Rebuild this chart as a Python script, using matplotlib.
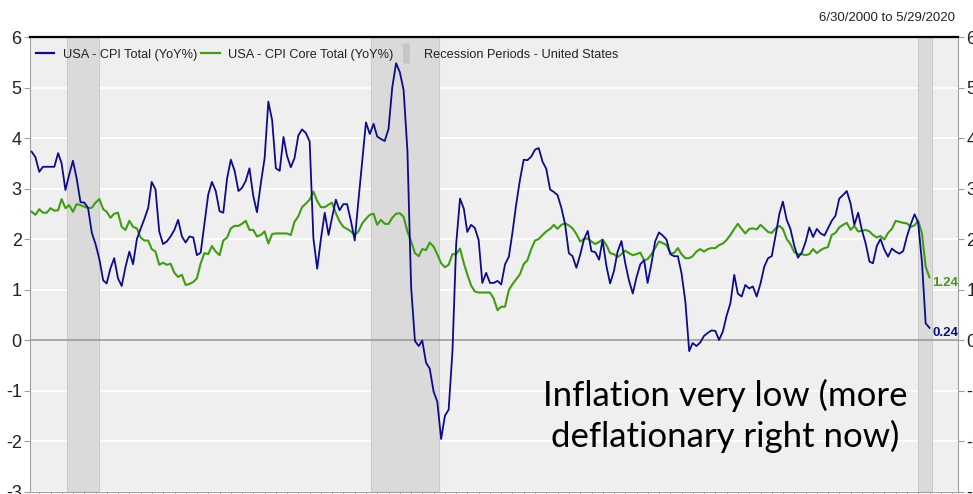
import matplotlib
matplotlib.use("Agg")
import matplotlib.pyplot as plt
import matplotlib.dates as mdates
from matplotlib.lines import Line2D
import pandas as pd

plt.rcParams["axes.unicode_minus"] = False

# monthly YoY %, Jun 2000 .. May 2020
cpi_total = [
    3.73, 3.62, 3.33, 3.43, 3.43, 3.43, 3.43,
    3.70, 3.50, 2.97, 3.27, 3.55, 3.20, 2.73, 2.72, 2.62, 2.12, 1.90, 1.60,
    1.18, 1.12, 1.42, 1.62, 1.22, 1.07, 1.45, 1.75, 1.50, 2.00, 2.20, 2.40,
    2.62, 3.13, 2.98, 2.15, 1.90, 1.95, 2.05, 2.18, 2.38, 2.05, 1.93, 2.05,
    2.03, 1.68, 1.73, 2.30, 2.88, 3.13, 2.95, 2.55, 2.52, 3.20, 3.57, 3.35,
    2.95, 3.01, 3.15, 3.40, 2.85, 2.53, 3.10, 3.60, 4.72, 4.35, 3.40, 3.35,
    4.02, 3.65, 3.42, 3.60, 4.05, 4.17, 4.10, 3.93, 2.02, 1.41, 2.00, 2.52,
    2.08, 2.42, 2.78, 2.57, 2.69, 2.69, 2.36, 1.97, 2.76, 3.54, 4.31, 4.08,
    4.28, 4.03, 3.98, 3.94, 4.18, 5.00, 5.48, 5.30, 4.95, 3.75, 1.05, -0.02,
    -0.12, -0.01, -0.45, -0.57, -1.02, -1.22, -1.96, -1.50, -1.38, -0.22, 1.90, 2.80,
    2.60, 2.14, 2.28, 2.22, 1.98, 1.13, 1.33, 1.13, 1.13, 1.17, 1.10, 1.50,
    1.65, 2.11, 2.68, 3.16, 3.57, 3.56, 3.63, 3.77, 3.80, 3.53, 3.39, 2.98,
    2.93, 2.87, 2.62, 2.30, 1.72, 1.66, 1.43, 1.69, 1.99, 2.16, 1.76, 1.74,
    1.59, 1.98, 1.47, 1.12, 1.36, 1.75, 1.96, 1.52, 1.18, 0.92, 1.24, 1.50,
    1.58, 1.13, 1.51, 1.95, 2.13, 2.07, 1.99, 1.70, 1.66, 1.66, 1.32, 0.76,
    -0.22, -0.06, -0.12, -0.05, 0.08, 0.14, 0.19, 0.18, 0.00, 0.17, 0.48, 0.73,
    1.29, 0.92, 0.86, 1.09, 1.02, 1.06, 0.86, 1.12, 1.45, 1.62, 1.66, 2.07,
    2.50, 2.74, 2.38, 2.20, 1.87, 1.63, 1.73, 1.94, 2.23, 2.04, 2.20, 2.11,
    2.07, 2.21, 2.36, 2.46, 2.80, 2.87, 2.95, 2.70, 2.28, 2.52, 2.18, 1.91,
    1.55, 1.52, 1.86, 2.00, 1.79, 1.65, 1.81, 1.75, 1.71, 1.76, 2.05, 2.29,
    2.49, 2.33, 1.54, 0.33, 0.24,
]

cpi_core = [
    2.54, 2.48, 2.59, 2.52, 2.52, 2.61, 2.56,
    2.57, 2.79, 2.61, 2.67, 2.54, 2.69, 2.67, 2.64, 2.61, 2.62, 2.72, 2.79,
    2.59, 2.54, 2.42, 2.50, 2.52, 2.24, 2.18, 2.36, 2.24, 2.21, 2.03, 1.97,
    1.97, 1.80, 1.75, 1.49, 1.53, 1.49, 1.51, 1.33, 1.25, 1.29, 1.09, 1.11,
    1.15, 1.22, 1.52, 1.72, 1.70, 1.86, 1.75, 1.68, 1.97, 2.03, 2.21, 2.26,
    2.26, 2.30, 2.36, 2.18, 2.18, 2.05, 2.08, 2.15, 1.91, 2.10, 2.11, 2.11,
    2.11, 2.11, 2.08, 2.34, 2.45, 2.63, 2.70, 2.78, 2.94, 2.75, 2.63, 2.63,
    2.68, 2.72, 2.51, 2.35, 2.24, 2.20, 2.15, 2.08, 2.15, 2.31, 2.40, 2.48,
    2.50, 2.28, 2.38, 2.30, 2.30, 2.42, 2.50, 2.51, 2.44, 2.15, 1.95, 1.72,
    1.66, 1.80, 1.78, 1.93, 1.85, 1.70, 1.52, 1.44, 1.49, 1.70, 1.70, 1.81,
    1.52, 1.30, 1.08, 0.96, 0.94, 0.94, 0.94, 0.94, 0.82, 0.59, 0.66, 0.66,
    0.99, 1.10, 1.20, 1.30, 1.50, 1.58, 1.80, 1.97, 2.00, 2.08, 2.15, 2.20,
    2.28, 2.20, 2.28, 2.31, 2.27, 2.21, 2.10, 1.95, 2.00, 2.01, 1.95, 1.90,
    1.94, 1.99, 1.88, 1.72, 1.70, 1.64, 1.70, 1.77, 1.72, 1.68, 1.70, 1.73,
    1.58, 1.60, 1.70, 1.82, 1.95, 1.92, 1.88, 1.72, 1.72, 1.82, 1.70, 1.62,
    1.62, 1.66, 1.75, 1.80, 1.75, 1.80, 1.82, 1.82, 1.88, 1.91, 1.98, 2.08,
    2.20, 2.30, 2.20, 2.11, 2.20, 2.21, 2.19, 2.28, 2.21, 2.14, 2.12, 2.21,
    2.26, 2.20, 2.00, 1.90, 1.74, 1.70, 1.70, 1.68, 1.70, 1.80, 1.72, 1.78,
    1.82, 1.84, 2.08, 2.12, 2.23, 2.28, 2.32, 2.18, 2.26, 2.15, 2.16, 2.18,
    2.15, 2.08, 2.03, 2.06, 1.99, 2.12, 2.20, 2.36, 2.34, 2.32, 2.31, 2.24,
    2.27, 2.36, 2.11, 1.45, 1.24,
]

recessions = [("2001-04-10", "2001-12-31"), ("2008-01-10", "2009-07-10"), ("2020-03-01", "2020-06-20")]
y_ticks = [-3, -2, -1, 0, 1, 2, 3, 4, 5, 6]

NAVY = "#0c0c8a"
GREEN = "#3f9c14"
# narrow sans if there is one, otherwise Arial-like
NARROW = ["Liberation Sans Narrow", "DejaVu Sans Condensed", "Liberation Sans", "DejaVu Sans"]

dates = pd.date_range("2000-06-30", periods=len(cpi_total), freq="ME")

fig = plt.figure(figsize=(9.73, 4.94), dpi=100)
ax = fig.add_axes([30 / 973, 2.5 / 494, 928 / 973, 454.5 / 494])
ax.set_facecolor("#efefef")

ax.set_ylim(-3, 6)
ax.set_xlim(pd.Timestamp("2000-06-17"), pd.Timestamp("2021-01-17"))
ax.set_yticks(y_ticks)
ax.yaxis.grid(True, color="white", lw=1.3, zorder=0)
ax.set_axisbelow(True)

for start, end in recessions:
    ax.axvspan(pd.Timestamp(start), pd.Timestamp(end), facecolor="#dadada",
               edgecolor="#cbcbcb", lw=0.8, zorder=1)

ax.axhline(0, color="#9a9a9a", lw=1.2, zorder=2)

ax.plot(dates, cpi_core, color=GREEN, lw=1.5, zorder=3)
ax.plot(dates, cpi_total, color=NAVY, lw=1.3, zorder=4)

# end labels
ax.annotate(f"{cpi_core[-1]:.2f}", (dates[-1], cpi_core[-1]), xytext=(2, -4),
            textcoords="offset points", ha="left", va="center", color=GREEN,
            fontsize=9.5, fontweight="bold", family=NARROW)
ax.annotate(f"{cpi_total[-1]:.2f}", (dates[-1], cpi_total[-1]), xytext=(2, -4),
            textcoords="offset points", ha="left", va="center", color=NAVY,
            fontsize=9.5, fontweight="bold", family=NARROW)

# spines / ticks
for side in ["left", "right", "bottom"]:
    ax.spines[side].set_color("#a0a0a0")
ax.spines["top"].set_color("black")
ax.spines["top"].set_linewidth(1.6)

ax.tick_params(axis="y", which="both", left=True, right=True, labelleft=True,
               labelright=True, length=4, color="#a0a0a0", labelsize=13,
               labelcolor="#222222", pad=2)
for lbl in ax.get_yticklabels():
    lbl.set_family(NARROW)
ax.xaxis.set_major_locator(mdates.MonthLocator(bymonth=[3, 6, 9, 12]))
ax.tick_params(axis="x", length=3, color="#b0b0b0", labelbottom=False)

handles = [
    Line2D([], [], color=NAVY, lw=1.6),
    Line2D([], [], color=GREEN, lw=1.6),
    Line2D([], [], color="#c6c6c6", ls="none", marker="|", markersize=15, markeredgewidth=5),
]
labels = ["USA - CPI Total (YoY%)", "USA - CPI Core Total (YoY%)", "Recession Periods - United States"]
ax.legend(handles, labels, loc="upper left", bbox_to_anchor=(-0.006, 1.0), ncol=3,
          frameon=False, handlelength=1.45, handletextpad=0.65, columnspacing=0.3,
          borderaxespad=0.5, prop={"family": NARROW, "size": 9.2},
          labelcolor="#222222")

fig.text(955 / 973, 1 - 18 / 494, "6/30/2000 to 5/29/2020", ha="right", va="center",
         fontsize=9.5, family=NARROW, color="#222222")

fig.text(725 / 973, 1 - 416 / 494, "Inflation very low (more\ndeflationary right now)",
         ha="center", va="center", fontsize=25, family=["Lato", "DejaVu Sans"],
         color="black", linespacing=1.3)

fig.savefig("out.png", dpi=100)
